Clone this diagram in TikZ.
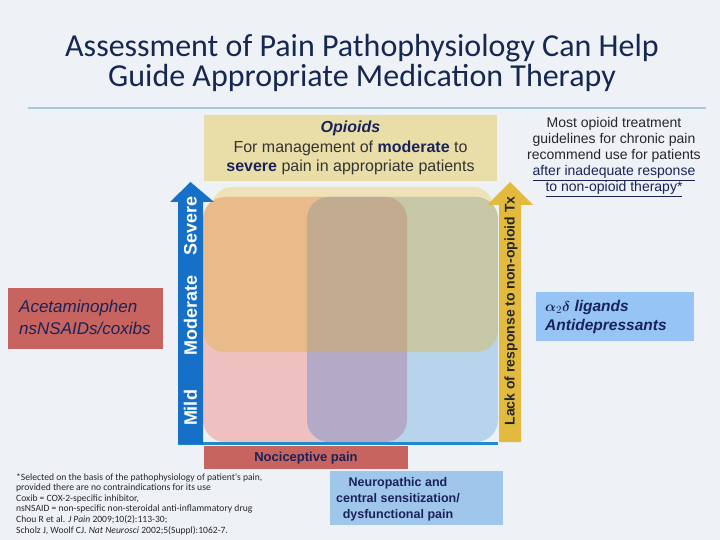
\documentclass[tikz,border=0pt]{standalone}
\usepackage{amsmath}
\usepackage{fontspec}
\setmainfont{Liberation Sans}
\newfontfamily\calfont{Carlito}
\usetikzlibrary{positioning}

\definecolor{slidebg}{RGB}{238,242,247}
\definecolor{navy}{RGB}{25,35,90}
\definecolor{titleblue}{RGB}{22,40,82}
\definecolor{rulecol}{RGB}{168,200,220}
\definecolor{khaki}{RGB}{234,222,168}
\definecolor{khakilight}{RGB}{238,226,182}
\definecolor{pinkcol}{RGB}{238,192,192}
\definecolor{bluecol}{RGB}{184,212,236}
\definecolor{mixcol}{RGB}{178,170,198}
\definecolor{goldcol}{RGB}{225,175,40}
\definecolor{redbox}{RGB}{200,100,95}
\definecolor{axisblue}{RGB}{22,112,200}
\definecolor{lineblue}{RGB}{30,140,200}
\definecolor{arrowgold}{RGB}{226,186,62}
\definecolor{lightbox}{RGB}{160,198,236}
\definecolor{drugblue}{RGB}{150,196,245}

\begin{document}
\begin{tikzpicture}[x=1pt,y=-1pt,every node/.style={inner sep=0pt,text=navy}]
\fill[slidebg] (0,0) rectangle (720,540);
% title
\node[align=center,text=titleblue,font={\calfont\fontsize{32}{30}\selectfont}] (title) at (362,63)
  {Assessment of Pain Pathophysiology Can Help\\Guide Appropriate Medication Therapy};
\draw[rulecol,line width=1.2pt] (28,108) -- (706,108);
% opioids
\fill[khaki] (204,115) rectangle (497,181);
\node[align=center,text=black!80,font={\fontsize{16}{19.5}\selectfont}] (opioids) at (350.5,148)
  {\textcolor{navy}{\textbf{\textit{Opioids}}}\\For management of \textcolor{navy}{\textbf{moderate}} to\\\textcolor{navy}{\textbf{severe}} pain in appropriate patients};
% quadrants
\fill[khakilight,rounded corners=20pt] (212,187) rectangle (493,350);
\fill[pinkcol,rounded corners=22pt] (203,197) rectangle (407,442);
\fill[bluecol,rounded corners=22pt] (307,197) rectangle (498,442);
\fill[mixcol,rounded corners=22pt] (307,197) rectangle (407,442);
\fill[goldcol,opacity=0.35,rounded corners=22pt] (203,197) rectangle (498,352);
% axes
\draw[lineblue,line width=3pt] (178,443) -- (498,443);
\fill[axisblue] (178,444) -- (178,202) -- (170,202) -- (190.5,182) -- (214,202) -- (203,202) -- (203,444) -- cycle;
\node[rotate=90,text=white,font=\fontsize{18}{18}\selectfont\bfseries] (mild) at (190.5,408) {Mild};
\node[rotate=90,text=white,font=\fontsize{18}{18}\selectfont\bfseries] (moderate) at (190.5,315) {Moderate};
\node[rotate=90,text=white,font=\fontsize{18}{18}\selectfont\bfseries] (severe) at (190.5,226) {Severe};
\fill[arrowgold] (499,442) -- (499,205) -- (487,205) -- (510,182) -- (533,205) -- (521,205) -- (521,442) -- cycle;
\node[rotate=90,text=black!85,font=\fontsize{14}{14}\selectfont\bfseries] (lack) at (511,311) {Lack of response to non-opioid Tx};
% pain types
\fill[redbox] (204,446) rectangle (408,469);
\node[font=\fontsize{13}{13}\selectfont\bfseries] (nocic) at (306,458) {Nociceptive pain};
\fill[lightbox] (330,471) rectangle (503,525);
\node[align=center,font=\fontsize{12.5}{16}\selectfont\bfseries] (neuro) at (398,499)
  {Neuropathic and\\central sensitization/\\dysfunctional pain};
% drug boxes
\fill[redbox] (8,288) rectangle (163,349);
\node[align=left,anchor=west,font=\fontsize{17}{22}\selectfont\itshape] (acet) at (19,317)
  {Acetaminophen\\nsNSAIDs/coxibs};
\fill[drugblue] (536,292) rectangle (694,341);
\node[align=left,anchor=west,font=\fontsize{15.5}{19}\selectfont\bfseries\itshape] (alpha) at (545,317)
  {$\boldsymbol{\alpha}_2\boldsymbol{\delta}$ ligands\\Antidepressants};
% guideline note
\node[align=center,text=black!85,font=\fontsize{14}{16}\selectfont] (note) at (614,157)
  {Most opioid treatment\\guidelines for chronic pain\\recommend use for patients\\\textcolor{navy}{\underline{after inadequate response}}\\\textcolor{navy}{\underline{to non-opioid therapy*}}};
% footnote
\node[align=left,anchor=north west,text=black!85,font={\calfont\fontsize{9.6}{10.6}\selectfont}] (foot) at (16,473)
  {*Selected on the basis of the pathophysiology of patient's pain,\\
   provided there are no contraindications for its use\\
   Coxib = COX-2-specific inhibitor,\\
   nsNSAID = non-specific non-steroidal anti-inflammatory drug\\
   Chou R et al. \textit{J Pain} 2009;10(2):113-30;\\
   Scholz J, Woolf CJ. \textit{Nat Neurosci} 2002;5(Suppl):1062-7.};
\end{tikzpicture}
\end{document}
